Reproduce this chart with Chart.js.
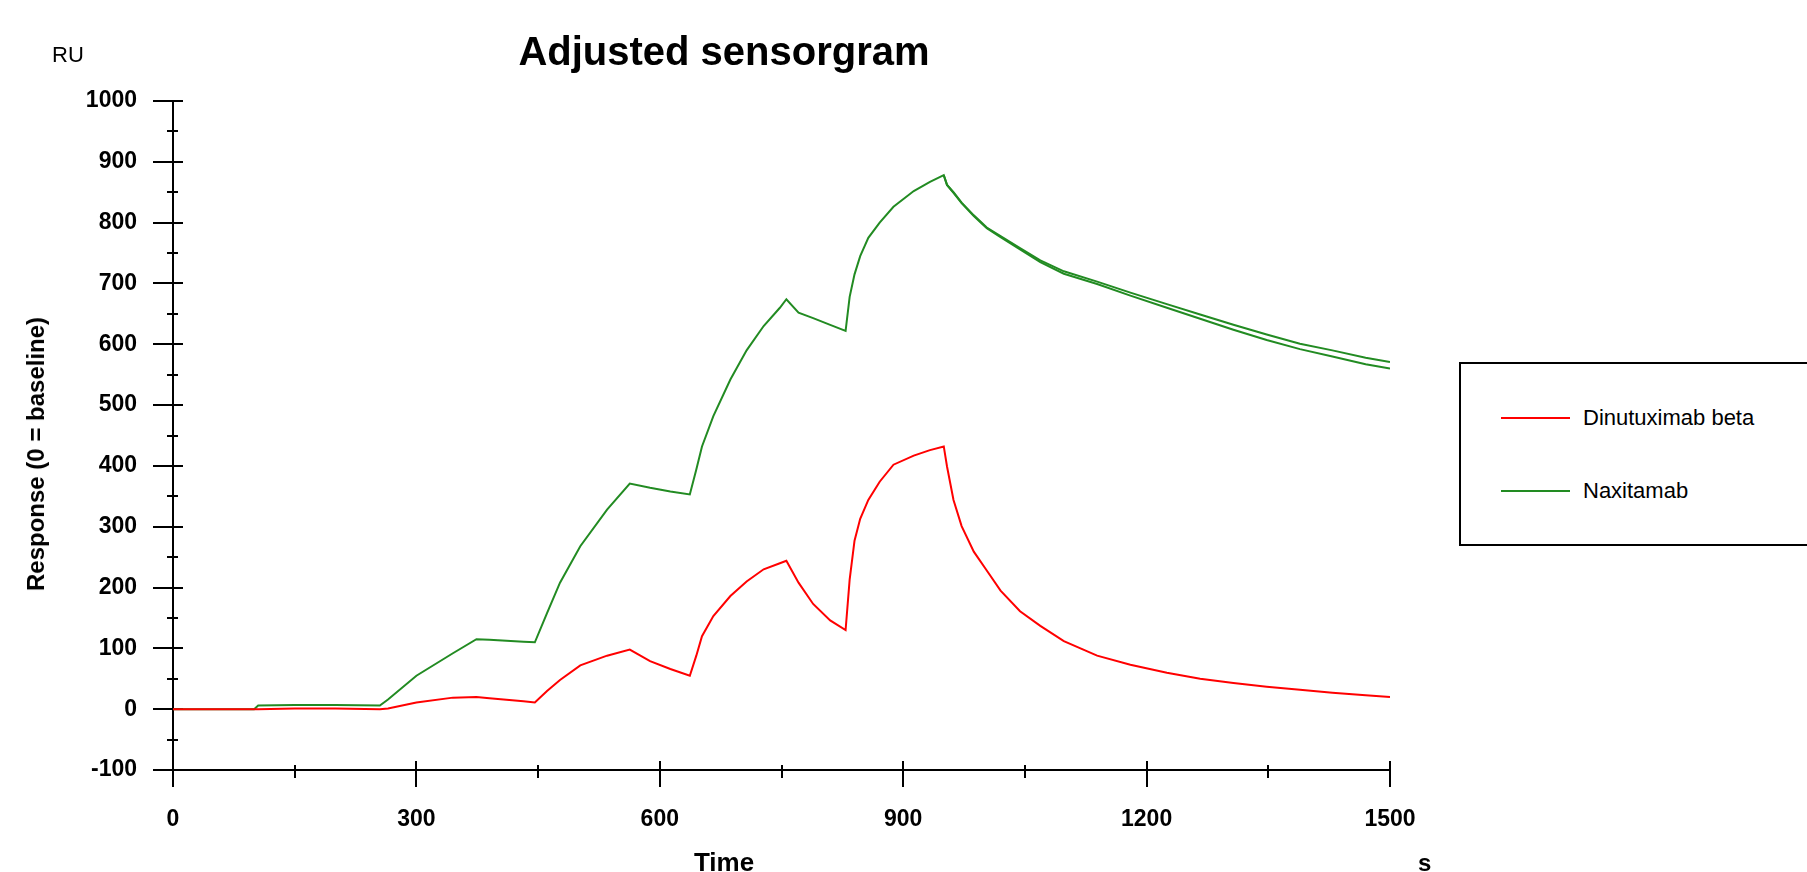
<!DOCTYPE html>
<html>
<head>
<meta charset="utf-8">
<script src="https://cdn.jsdelivr.net/npm/chart.js@4.4.1/dist/chart.umd.min.js"></script>
<style>
  html, body { margin: 0; padding: 0; background: #fff; width: 1807px; height: 872px; overflow: hidden; }
  #wrap { position: relative; width: 1807px; height: 872px; }
  #c { position: absolute; left: 0; top: 0; }
  .txt { position: absolute; font-family: "Liberation Sans", Arial, sans-serif; color: #000; line-height: 1; white-space: nowrap; }
  #legend { position: absolute; left: 1459px; top: 362px; width: 420px; height: 180px; border: 2px solid #000; box-sizing: content-box; background: #fff; }
  .lg-line { position: absolute; height: 2px; }
</style>
</head>
<body>
<div id="wrap">
  <canvas id="c" width="1453" height="872" style="width:1453px;height:872px"></canvas>
  <div class="txt" id="ru" style="left:52px; top:44px; font-size:22px;">RU</div>
  <div class="txt" id="ylab" style="left:36px; top:454px; font-size:24px; font-weight:bold; transform: translate(-50%,-50%) rotate(-90deg);">Response (0 = baseline)</div>
  <div class="txt" id="xlab" style="left:724px; top:849px; font-size:26px; font-weight:bold; transform: translateX(-50%);">Time</div>
  <div class="txt" id="xunit" style="left:1418px; top:851px; font-size:24px; font-weight:bold;">s</div>
  <div id="legend"></div>
</div>
<script>
// ---- data ----
const times = [0, 50, 100, 105, 150, 200, 255, 265, 300, 345, 374, 390, 432, 446, 461, 477, 502, 535, 563, 588, 613, 637, 645, 652, 666, 687, 707, 728, 748, 756, 771, 789, 810, 829, 834, 840, 847, 857, 871, 888, 913, 933, 950, 954, 962, 972, 987, 1003, 1020, 1044, 1069, 1098, 1139, 1180, 1225, 1266, 1307, 1348, 1389, 1429, 1470, 1500];
const dinutuximabBeta = [0, 0, 0, 0, 1, 1, 0, 1, 11, 19, 20, 18, 13, 11, 30, 48, 72, 88, 98, 79, 66, 55, 88, 120, 153, 186, 210, 230, 240, 244, 208, 173, 146, 130, 213, 277, 313, 344, 374, 402, 417, 426, 432, 399, 344, 301, 259, 228, 195, 161, 137, 112, 88, 73, 60, 50, 43, 37, 32, 27, 23, 20];
const naxitamab = [0, 0, 0, 6, 7, 7, 6, 16, 55, 92, 115, 114, 111, 110, 158, 208, 268, 328, 371, 364, 358, 353, 394, 432, 482, 542, 590, 630, 660, 674, 652, 643, 632, 622, 678, 715, 745, 775, 800, 826, 852, 867, 878, 862, 850, 833, 812, 792, 778, 758, 738, 720, 703, 685, 666, 649, 632, 616, 601, 590, 578, 571];
// second Naxitamab trace visible in the dissociation phase
const naxRepTimes = [950, 954, 962, 972, 987, 1003, 1020, 1044, 1069, 1098, 1139, 1180, 1225, 1266, 1307, 1348, 1389, 1429, 1470, 1500];
const naxRepValues = [878, 862, 849, 832, 811, 791, 776, 756, 735, 716, 699, 680, 660, 642, 624, 607, 592, 580, 567, 560];

const seriesNames = ['Dinutuximab beta', 'Naxitamab'];
const seriesColors = ['#ff0000', '#228b22'];
const xTickValues = [0, 300, 600, 900, 1200, 1500];
const yTickValues = [-100, 0, 100, 200, 300, 400, 500, 600, 700, 800, 900, 1000];

const FONT = '"Liberation Sans", Arial, sans-serif';

function pts(xs, ys) { return xs.map((t, i) => ({ x: t, y: ys[i] })); }

// legend (HTML)
const lg = document.getElementById('legend');
[418, 491].forEach((yy, i) => {
  const ln = document.createElement('div');
  ln.className = 'lg-line';
  ln.style.left = (1501 - 1461) + 'px';
  ln.style.top = (yy - 364 - 1) + 'px';
  ln.style.width = '69px';
  ln.style.background = seriesColors[i];
  lg.appendChild(ln);
  const tx = document.createElement('div');
  tx.className = 'txt';
  tx.style.left = (1583 - 1461) + 'px';
  tx.style.top = (yy - 364 - 11) + 'px';
  tx.style.fontSize = '22px';
  tx.textContent = seriesNames[i];
  lg.appendChild(tx);
});

const axesPlugin = {
  id: 'sensorAxes',
  beforeDatasetsDraw(chart) {
    const { ctx, scales: { x, y } } = chart;
    const ax = x.getPixelForValue(0);
    const ay = y.getPixelForValue(-100);
    ctx.save();
    ctx.strokeStyle = '#000';
    ctx.lineWidth = 2;
    ctx.lineCap = 'butt';
    const line = (x1, y1, x2, y2) => { ctx.beginPath(); ctx.moveTo(x1, y1); ctx.lineTo(x2, y2); ctx.stroke(); };
    line(ax, y.getPixelForValue(1000), ax, ay + 17);
    line(ax - 18, ay, x.getPixelForValue(1500), ay);
    const yv = y.ticks.map(t => t.value);
    yv.forEach((v, i) => {
      const py = Math.round(y.getPixelForValue(v));
      line(ax - 20, py, ax + 10, py);
      if (i < yv.length - 1) {
        const pm = Math.round(y.getPixelForValue((v + yv[i + 1]) / 2));
        line(ax - 6, pm, ax + 5, pm);
      }
    });
    const xv = x.ticks.map(t => t.value);
    xv.forEach((v, i) => {
      const px = Math.round(x.getPixelForValue(v));
      line(px, ay - 9, px, ay + 17);
      if (i < xv.length - 1) {
        const pm = Math.round(x.getPixelForValue((v + xv[i + 1]) / 2));
        line(pm, ay - 5, pm, ay + 8);
      }
    });
    ctx.restore();
  }
};

new Chart(document.getElementById('c'), {
  type: 'line',
  data: {
    datasets: [
      { label: seriesNames[0], data: pts(times, dinutuximabBeta), borderColor: seriesColors[0], borderWidth: 2, pointRadius: 0, tension: 0, fill: false },
      { label: seriesNames[1], data: pts(times, naxitamab), borderColor: seriesColors[1], borderWidth: 2, pointRadius: 0, tension: 0, fill: false },
      { label: seriesNames[1] + ' (replicate)', data: pts(naxRepTimes, naxRepValues), borderColor: seriesColors[1], borderWidth: 2, pointRadius: 0, tension: 0, fill: false }
    ]
  },
  options: {
    responsive: false,
    animation: false,
    events: [],
    layout: { padding: { left: 58, right: 63, top: 0, bottom: 0 } },
    plugins: {
      legend: { display: false },
      tooltip: { enabled: false },
      title: {
        display: true,
        text: 'Adjusted sensorgram',
        color: '#000',
        font: { family: FONT, size: 40, weight: 'bold', lineHeight: 1.2 },
        padding: { top: 30, bottom: 23 }
      }
    },
    scales: {
      x: {
        type: 'linear',
        min: 0, max: 1500,
        afterBuildTicks(scale) { scale.ticks = xTickValues.map(v => ({ value: v })); },
        afterFit(scale) { scale.height = 102; },
        grid: { display: false, drawTicks: false },
        border: { display: false },
        ticks: { color: '#000', padding: 36, maxRotation: 0, autoSkip: false, callback: v => String(v), font: { family: FONT, size: 23, weight: 'bold' } }
      },
      y: {
        min: -100, max: 1000,
        afterBuildTicks(scale) { scale.ticks = yTickValues.map(v => ({ value: v })); },
        afterFit(scale) { scale.width = 115; },
        grid: { display: false, drawTicks: false },
        border: { display: false },
        ticks: { color: '#000', padding: 36, autoSkip: false, callback: v => String(v), font: { family: FONT, size: 23, weight: 'bold' } }
      }
    }
  },
  plugins: [axesPlugin]
});
</script>
</body>
</html>
